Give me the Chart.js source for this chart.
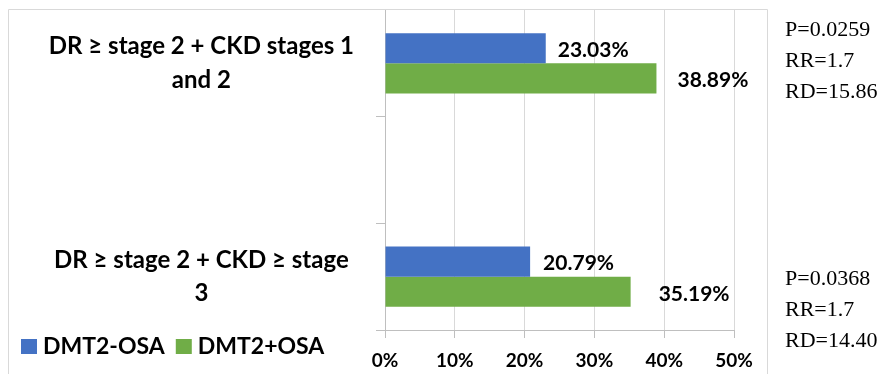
<!DOCTYPE html>
<html>
<head>
<meta charset="utf-8">
<script src="https://cdn.jsdelivr.net/npm/chart.js@4.4.1/dist/chart.umd.min.js"></script>
<style>
  html, body { margin: 0; padding: 0; background: #fff; }
  #wrap { width: 878px; height: 374px; position: relative; }
</style>
</head>
<body>
<div id="wrap"><canvas id="myChart"></canvas></div>
<script>
// Data

const categories = [
    ["DR \u2265 stage 2 + CKD stages 1", "and 2"],
    "",
    ["DR \u2265 stage 2 + CKD \u2265 stage", "3"]
];
const seriesNames = ["DMT2-OSA", "DMT2+OSA"];
const withoutOsa = [23.03, null, 20.79];
const withOsa = [38.89, null, 35.19];
const xTicks = [0, 10, 20, 30, 40, 50];
const pValues = ["P=0.0259", "", "P=0.0368"];
const rrValues = ["RR=1.7", "", "RR=1.7"];
const rdValues = ["RD=15.86", "", "RD=14.40"];

const BLUE = "#4472C4";
const GREEN = "#70AD47";
const AXIS = "#bfbfbf";
const GRID = "#d9d9d9";
const FONT = "Lato, 'Open Sans', sans-serif";

// Plugins

const framePlugin = {
    id: "frame",
    beforeDraw(chart) {
        const ctx = chart.ctx;
        ctx.save();
        ctx.strokeStyle = GRID;
        ctx.lineWidth = 1;
        ctx.beginPath();
        ctx.moveTo(8.5, chart.height);
        ctx.lineTo(8.5, 9.5);
        ctx.lineTo(767.5, 9.5);
        ctx.lineTo(767.5, chart.height);
        ctx.stroke();
        ctx.restore();
    }
};

const valueLabels = {
    id: "valueLabels",
    afterDatasetsDraw(chart, args, opts) {
        const ctx = chart.ctx;
        ctx.save();
        ctx.font = "bold 21px " + FONT;
        ctx.fillStyle = "#000";
        ctx.textAlign = "left";
        ctx.textBaseline = "middle";
        chart.data.datasets.forEach((ds, di) => {
            chart.getDatasetMeta(di).data.forEach((bar, i) => {
                const v = ds.data[i];
                if (v === null) return;
                ctx.fillText(v.toFixed(2) + "%", bar.x + opts.offsets[di][i], bar.y + 2);
            });
        });
        ctx.restore();
    }
};

const legendLeft = {
    id: "legendLeft",
    afterDraw(chart) {
        const ctx = chart.ctx;
        ctx.save();
        ctx.font = "bold 23px " + FONT;
        ctx.textAlign = "left";
        ctx.textBaseline = "middle";
        let x = 21;
        const y = 347;
        chart.data.datasets.forEach((ds) => {
            ctx.fillStyle = ds.backgroundColor;
            ctx.fillRect(x, y - 8, 16, 15);
            x += 22;
            ctx.fillStyle = "#000";
            ctx.fillText(ds.label, x, y);
            x += ctx.measureText(ds.label).width + 11;
        });
        ctx.restore();
    }
};

const statsText = {
    id: "statsText",
    afterDraw(chart, args, opts) {
        const ctx = chart.ctx;
        const yScale = chart.scales.y;
        ctx.save();
        ctx.font = "22px 'Liberation Serif', 'Times New Roman', serif";
        ctx.fillStyle = "#000";
        ctx.textAlign = "left";
        ctx.textBaseline = "middle";
        categories.forEach((c, i) => {
            if (!pValues[i]) return;
            const y0 = yScale.getPixelForValue(i) + opts.shift[i];
            [pValues[i], rrValues[i], rdValues[i]].forEach((t, k) => {
                ctx.fillText(t, 785, y0 + k * opts.step);
            });
        });
        ctx.restore();
    }
};

// Config

const config = {
    type: "bar",
    data: {
        labels: categories,
        datasets: [
            { label: seriesNames[0], data: withoutOsa, backgroundColor: BLUE },
            { label: seriesNames[1], data: withOsa, backgroundColor: GREEN }
        ]
    },
    options: {
        indexAxis: "y",
        responsive: true,
        maintainAspectRatio: false,
        animation: false,
        categoryPercentage: 0.566,
        barPercentage: 1,
        layout: { padding: { left: 8, right: 144, top: 10, bottom: 0 } },
        plugins: {
            legend: { display: false },
            tooltip: { enabled: false },
            valueLabels: { offsets: [[12, 0, 13], [21, 0, 28]] },
            statsText: { shift: [-33, 0, 3], step: 31 }
        },
        scales: {
            x: {
                min: 0,
                max: 50,
                afterBuildTicks: (scale) => {
                    scale.ticks = xTicks.map((v) => ({ value: v }));
                },
                afterFit: (scale) => {
                    scale.height = 44;
                    scale.paddingLeft = 0;
                    scale.paddingRight = 0;
                },
                border: { color: AXIS },
                grid: { color: GRID, tickColor: AXIS, tickLength: 8 },
                ticks: {
                    color: "#000",
                    padding: 11,
                    font: { family: FONT, size: 19, weight: "bold" },
                    callback: (v) => v + "%"
                }
            },
            y: {
                afterFit: (scale) => {
                    scale.width = 377;
                    scale.paddingTop = 0;
                    scale.paddingBottom = 0;
                },
                border: { color: AXIS },
                grid: {
                    drawOnChartArea: false,
                    offset: true,
                    tickLength: 9,
                    tickColor: (ctx) => (ctx.index === 0 ? "rgba(0,0,0,0)" : AXIS)
                },
                ticks: {
                    color: "#000",
                    crossAlign: "center",
                    padding: 22,
                    font: { family: FONT, size: 24, weight: "bold", lineHeight: 1.4 }
                }
            }
        }
    },
    plugins: [framePlugin, valueLabels, legendLeft, statsText]
};

// Render

const myChart = new Chart(document.getElementById("myChart"), config);
</script>
</body>
</html>
